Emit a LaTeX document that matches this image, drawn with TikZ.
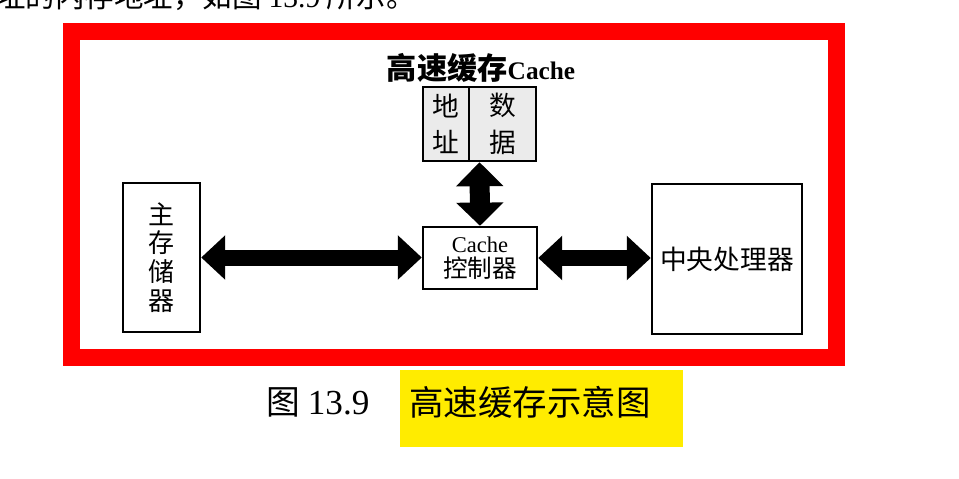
\documentclass[tikz,border=0pt]{standalone}
\usepackage{fontspec}
\setmainfont{Liberation Serif}
\newfontfamily\cjk{Noto Sans CJK SC}
\usetikzlibrary{arrows.meta,calc}
\definecolor{framered}{RGB}{255,0,0}
\definecolor{capyellow}{RGB}{255,236,0}
\tikzset{
  box/.style={draw=black, line width=1.7pt, inner sep=0pt, align=center},
  cellbox/.style={box, fill=black!8},
  fatarrow/.style={line width=0.4cm, {Triangle[width=1.075cm,length=0.6cm]}-{Triangle[width=1.075cm,length=0.6cm]}},
  vfatarrow/.style={line width=0.5cm, {Triangle[width=1.15cm,length=0.6cm]}-{Triangle[width=1.15cm,length=0.58cm]}},
  lbl/.style={font=\cjk\fontsize{19}{19.8}\selectfont}
}
\begin{document}
\begin{tikzpicture}[x=0.025cm,y=-0.025cm]
\useasboundingbox (0,0) rectangle (959,479);
\begin{scope}
\clip (0,0) rectangle (959,479);
% cut-off line of running text at the top
\node[anchor=base west, inner sep=0pt, font=\cjk\fontsize{21}{21}\selectfont] (topline) at (-4,8)
  {址的内存地址，如图 {\rmfamily 13.9} 所示。};
\end{scope}
% red frame
\draw[framered, line width=0.4125cm] (71.5,31.5) rectangle (836.5,357.5);
% title of the cache
\node[inner sep=0pt, font=\cjk\fontsize{21.5}{22}\selectfont] (title) at (481,68)
  {\textbf{高速缓存}{\rmfamily\bfseries\fontsize{18}{18}\selectfont Cache}};
% cache cells
\node[cellbox, minimum width=1.15cm, minimum height=1.85cm,
      font=\cjk\fontsize{19}{26}\selectfont] (addr) at (446,124) {地\\址};
\node[cellbox, minimum width=1.675cm, minimum height=1.85cm,
      font=\cjk\fontsize{19}{26}\selectfont] (data) at (502.5,124) {数\\据};
\coordinate (cachebot) at ($(addr.south west)!0.5!(data.south east)$);
% cache controller
\node[box, minimum width=2.85cm, minimum height=1.55cm,
      font=\fontsize{16}{17.5}\selectfont] (ctrl) at (480,258)
  {Cache\\{\cjk\fontsize{17.5}{17.5}\selectfont 控制器}};
% main memory
\node[box, minimum width=1.925cm, minimum height=3.725cm,
      font=\cjk\fontsize{18.5}{20.5}\selectfont] (mem) at (161.5,257.5) {主\\存\\储\\器};
% CPU
\node[box, minimum width=3.75cm, minimum height=3.75cm, lbl] (cpu) at (727,259) {中央处理器};
% connectors
\draw[vfatarrow] (cachebot) -- (ctrl.north);
\draw[fatarrow] (mem.east) -- (mem.east -| ctrl.west);
\draw[fatarrow] (ctrl.east) -- (ctrl.east -| cpu.west);
% caption
\node[inner sep=0pt, font=\cjk\fontsize{24}{24}\selectfont] (capnum) at (318,402)
  {图 {\rmfamily\fontsize{25}{25}\selectfont 13.9}};
\node[fill=capyellow, minimum width=7.075cm, minimum height=1.925cm, inner sep=0pt] (capbox) at (541.5,408.5) {};
\node[inner sep=0pt, font=\cjk\fontsize{24.5}{24.5}\selectfont] (captext) at (530,402) {高速缓存示意图};
\end{tikzpicture}
\end{document}
